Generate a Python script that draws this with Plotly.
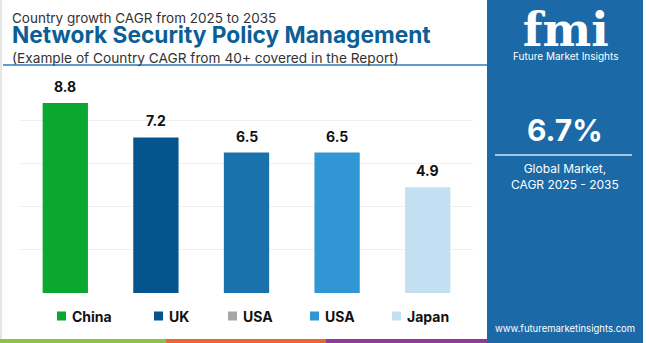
import plotly.graph_objects as go

# ---- data ----
categories = ["China", "UK", "USA", "USA", "Japan"]
values = [8.8, 7.2, 6.5, 6.5, 4.9]
bar_colors = ["#0aa82f", "#04558e", "#1a72ad", "#3096d4", "#c3e0f2"]
legend_labels = ["China", "UK", "USA", "USA", "Japan"]
legend_colors = ["#0aa82f", "#04558e", "#a6a6a6", "#3096d4", "#c3e0f2"]
y_ticks = [0, 2, 4, 6, 8, 10]
global_cagr = "6.7%"

W, H = 650, 343
ML, MR, MT, MB = 20, 177, 77, 50
PW, PH = W - ML - MR, H - MT - MB
FONT = "Inter"


def px(x):
    return (x - ML) / PW


def py(y):
    return (H - MB - y) / PH


positions = list(range(len(categories)))

fig = go.Figure()
fig.add_trace(go.Bar(
    x=positions, y=values, width=0.5,
    marker=dict(color=bar_colors, line=dict(width=0)),
    showlegend=False, hoverinfo="skip",
))

annotations = []
for p, v in zip(positions, values):
    annotations.append(dict(
        x=p, y=v, xref="x", yref="y", text=f"<b>{v}</b>", showarrow=False,
        yanchor="bottom", yshift=6, font=dict(family=FONT, size=14, color="#111111"),
    ))

title_text = (
    "<span style='font-size:13.5px;color:#333333'>Country growth CAGR from 2025 to 2035</span><br>"
    "<span style='font-size:22.7px;color:#0b5e96'><b>Network Security Policy Management</b></span><br>"
    "<span style='font-size:13.7px;color:#333333'>(Example of Country CAGR from 40+ covered in the Report)</span>"
)
annotations.append(dict(
    x=px(10), y=py(38), xref="paper", yref="paper", xanchor="left", yanchor="middle",
    align="left", text=title_text, showarrow=False,
    font=dict(family=FONT, size=15.4, color="#333333"),
))

pcx = px(565)
logo_text = (
    "<span style='font-family:DejaVu Serif;font-size:46px'><b>fmi</b></span><br>"
    "<span style='font-size:10px'>Future Market Insights</span>"
)
annotations += [
    dict(x=pcx, y=py(1), xref="paper", yref="paper", xanchor="center", yanchor="top",
         text=logo_text, showarrow=False, align="center",
         font=dict(family=FONT, size=11, color="#ffffff")),
    dict(x=pcx, y=py(130), xref="paper", yref="paper", xanchor="center", yanchor="middle",
         text=f"<b>{global_cagr}</b>", showarrow=False,
         font=dict(family=FONT, size=30, color="#ffffff")),
    dict(x=pcx, y=py(176.5), xref="paper", yref="paper", xanchor="center", yanchor="middle",
         text="Global Market,<br>CAGR 2025 - 2035", showarrow=False,
         font=dict(family=FONT, size=12, color="#ffffff")),
    dict(x=pcx, y=py(328), xref="paper", yref="paper", xanchor="center", yanchor="middle",
         text="www.futuremarketinsights.com", showarrow=False,
         font=dict(family=FONT, size=9.5, color="#ffffff")),
]

shapes = []
leg_sq_x = [57, 154, 228, 310, 392]
leg_y = 316
for lx, lab, col in zip(leg_sq_x, legend_labels, legend_colors):
    shapes.append(dict(type="rect", xref="paper", yref="paper",
                       x0=px(lx), x1=px(lx + 9), y0=py(leg_y + 4.5), y1=py(leg_y - 4.5),
                       fillcolor=col, line=dict(width=0)))
    annotations.append(dict(x=px(lx + 13), y=py(leg_y), xref="paper", yref="paper",
                            xanchor="left", yanchor="middle", text=f"<b>{lab}</b>", showarrow=False,
                            font=dict(family=FONT, size=14, color="#111111")))

shapes += [
    dict(type="rect", xref="paper", yref="paper", x0=px(487), x1=px(643), y0=py(343), y1=py(0),
         fillcolor="#1b6aa7", line=dict(width=0), layer="below"),
    dict(type="line", xref="paper", yref="paper", x0=px(3), x1=px(487), y0=py(65), y1=py(65),
         line=dict(color="#2a7bbf", width=1.5)),
    dict(type="line", xref="paper", yref="paper", x0=px(495), x1=px(632), y0=py(155), y1=py(155),
         line=dict(color="#d6e6f3", width=1.5)),
    dict(type="line", xref="paper", yref="paper", x0=px(1), x1=px(1), y0=py(343), y1=py(0),
         line=dict(color="#dddddd", width=1.5)),
    dict(type="rect", xref="paper", yref="paper", x0=px(0), x1=px(166), y0=py(343), y1=py(339),
         fillcolor="#8bc34a", line=dict(width=0)),
    dict(type="rect", xref="paper", yref="paper", x0=px(166), x1=px(326), y0=py(343), y1=py(339),
         fillcolor="#e8672f", line=dict(width=0)),
    dict(type="rect", xref="paper", yref="paper", x0=px(326), x1=px(487), y0=py(343), y1=py(339),
         fillcolor="#8e3a96", line=dict(width=0)),
]

fig.update_layout(
    width=W, height=H,
    margin=dict(l=ML, r=MR, t=MT, b=MB),
    paper_bgcolor="#ffffff", plot_bgcolor="#ffffff",
    xaxis=dict(range=[-0.5, 4.5], showticklabels=False, showgrid=False, zeroline=False,
               fixedrange=True),
    yaxis=dict(range=[0, 10], tickvals=y_ticks, showticklabels=False, showgrid=True,
               gridcolor="#f0f0f0", gridwidth=1, zeroline=False, fixedrange=True),
    annotations=annotations, shapes=shapes, showlegend=False,
    font=dict(family=FONT),
)

fig.write_html("out.html", config={"displayModeBar": False})
